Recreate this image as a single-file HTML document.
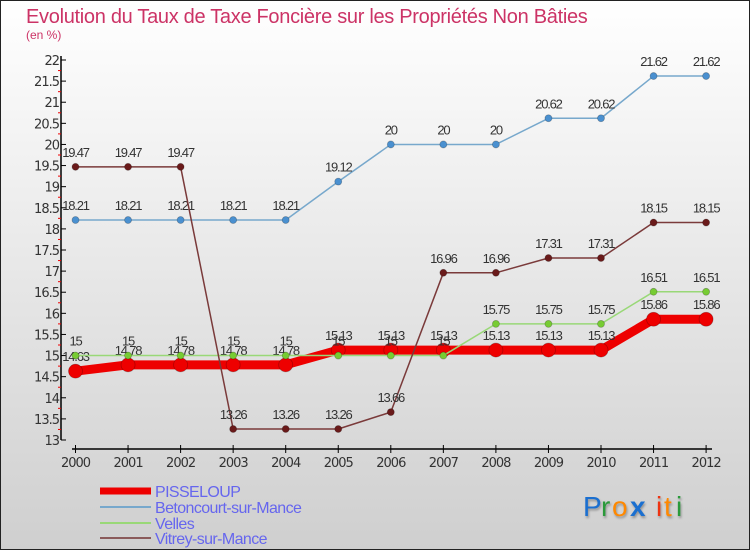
<!DOCTYPE html>
<html><head><meta charset="utf-8">
<style>
body{margin:0;}
#wrap{width:750px;height:550px;position:relative;overflow:hidden;font-family:"DejaVu Sans","Liberation Sans",sans-serif;}
svg text{font-family:"DejaVu Sans","Liberation Sans",sans-serif;}
svg text.lib{font-family:"Liberation Sans",sans-serif;}
</style></head>
<body>
<div id="wrap">
<svg id="svg" width="750" height="550" xmlns="http://www.w3.org/2000/svg">
<defs>
<linearGradient id="bg" x1="0" y1="0" x2="0" y2="1">
<stop offset="0" stop-color="#ffffff"/><stop offset="1" stop-color="#cfcfcf"/>
</linearGradient>
</defs>
<rect x="0.5" y="0.5" width="749" height="549" fill="url(#bg)" stroke="#222"/>
<text class="lib" x="26" y="23" font-size="20" fill="#cc3366" letter-spacing="-0.3">Evolution du Taux de Taxe Foncière sur les Propriétés Non Bâties</text>
<text class="lib" x="26" y="39" font-size="12" fill="#cc3366">(en %)</text>
<g id="axes"></g>
<g id="series"></g>
<g id="legend">
<line x1="100" y1="491" x2="151" y2="491" stroke="#ee0000" stroke-width="7"/>
<line x1="100" y1="507" x2="151" y2="507" stroke="#77a8cc" stroke-width="2"/>
<line x1="100" y1="523" x2="151" y2="523" stroke="#99d877" stroke-width="2"/>
<line x1="100" y1="538" x2="151" y2="538" stroke="#8a5a5a" stroke-width="2"/>
<text class="lib" x="155" y="497" font-size="16" fill="#6666ee" letter-spacing="-0.6">PISSELOUP</text>
<text class="lib" x="155" y="513" font-size="16" fill="#6666ee" letter-spacing="-0.6">Betoncourt-sur-Mance</text>
<text class="lib" x="155" y="529" font-size="16" fill="#6666ee" letter-spacing="-0.6">Velles</text>
<text class="lib" x="155" y="544" font-size="16" fill="#6666ee" letter-spacing="-0.6">Vitrey-sur-Mance</text>
</g>
<g font-size="28" style="text-shadow:1px 2px 2px rgba(0,0,0,0.3)">
<text class="lib" x="583" y="516" fill="#1a6fd0">P</text><text class="lib" x="601" y="516" fill="#2a9a3a">r</text><text class="lib" x="612" y="516" fill="#ff8800">o</text><text class="lib" x="630" y="516" fill="#1a6fd0" font-weight="bold">x</text><text class="lib" x="656" y="516" fill="#ee3311">i</text><text class="lib" x="664" y="516" fill="#ff8800">t</text><text class="lib" x="676" y="516" fill="#2a9a3a">i</text>
</g>
</svg>
</div>
<script>
const years=[2000,2001,2002,2003,2004,2005,2006,2007,2008,2009,2010,2011,2012];
const pisseloup=[14.63,14.78,14.78,14.78,14.78,15.13,15.13,15.13,15.13,15.13,15.13,15.86,15.86];
const betoncourt=[18.21,18.21,18.21,18.21,18.21,19.12,20,20,20,20.62,20.62,21.62,21.62];
const velles=[15,15,15,15,15,15,15,15,15.75,15.75,15.75,16.51,16.51];
const vitrey=[19.47,19.47,19.47,13.26,13.26,13.26,13.66,16.96,16.96,17.31,17.31,18.15,18.15];
const yTicks=[13,13.5,14,14.5,15,15.5,16,16.5,17,17.5,18,18.5,19,19.5,20,20.5,21,21.5,22];
const NS="http://www.w3.org/2000/svg";
const xs=i=>75.5+i*52.55;
const ys=v=>440-(v-13)*(380/9);
function mk(tag,attrs,parent){const e=document.createElementNS(NS,tag);for(const k in attrs)e.setAttribute(k,attrs[k]);parent.appendChild(e);return e;}
const axes=document.getElementById('axes');
let a=mk('line',{x1:61,y1:56,x2:61,y2:440,stroke:'#000','stroke-width':1.5},axes);


a=mk('line',{x1:72,y1:449,x2:712,y2:449,stroke:'#000','stroke-width':1.5},axes);


yTicks.forEach((t,i)=>{
  const y=ys(t);
  let l=mk('line',{x1:61,y1:y,x2:66,y2:y,stroke:'#000'},axes);
  
  
  if(i<yTicks.length-1){let m=mk('line',{x1:58,y1:y-10.55,x2:61,y2:y-10.55,stroke:'#ee0000'},axes);
  
  }
  let tx=mk('text',{x:59,y:y+5,'font-size':13,'text-anchor':'end',fill:'#333','letter-spacing':'-1'},axes);
  tx.textContent=String(t);
  
  
});
years.forEach((yr,i)=>{
  const x=xs(i);
  let l=mk('line',{x1:x,y1:445,x2:x,y2:453,stroke:'#000'},axes);
  
  
  let tx=mk('text',{x:x,y:467,'font-size':13,'text-anchor':'middle',fill:'#333','letter-spacing':'-1'},axes);
  tx.textContent=String(yr);
  
  
});
const sg=document.getElementById('series');
function series(name,vals,color,w,r,ptColor){
  const g=mk('g',{},sg);
  
  
  const pl=mk('polyline',{points:vals.map((v,i)=>xs(i)+','+ys(v)).join(' '),fill:'none',stroke:color,'stroke-width':w,'stroke-linejoin':'round'},g);
  
  
  vals.forEach((v,i)=>{
    const c=mk('circle',{cx:xs(i),cy:ys(v),r:r,fill:ptColor,stroke:'rgba(0,0,0,0.25)','stroke-width':0.8},g);
    
    
    const t=mk('text',{x:xs(i),y:ys(v)-10,'font-size':13,'text-anchor':'middle',fill:'#333','letter-spacing':'-1.2','class':'lib'},g);
    t.textContent=String(v);
    
    
  });
}
series('pisseloup',pisseloup,'#ee0000',9,7,'#ee0000');
series('betoncourt',betoncourt,'#77a8cc',1.5,3.5,'#4a90d0');
series('velles',velles,'#99d877',1.5,3.5,'#77cc33');
series('vitrey',vitrey,'#7a3a3a',1.5,3.5,'#6a1a1a');
</script>
</body></html>
